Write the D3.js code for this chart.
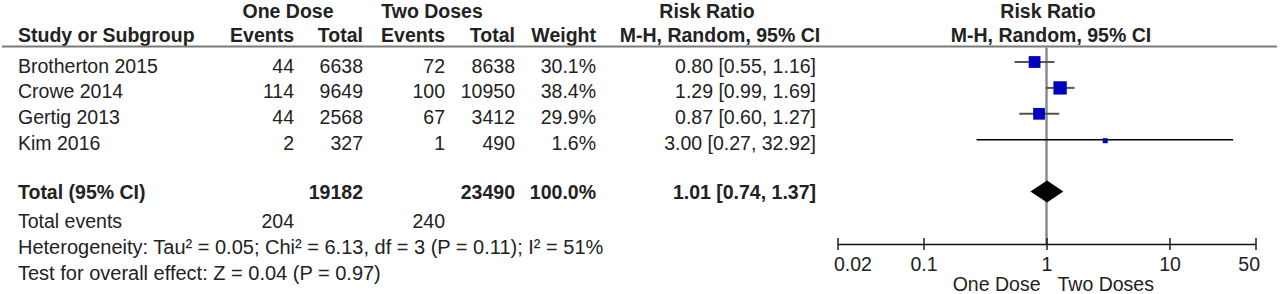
<!DOCTYPE html>
<html>
<head>
<meta charset="utf-8">
<script src="https://cdn.jsdelivr.net/npm/d3@7"></script>
<style>
  body { margin: 0; background: #fff; }
  svg text { font-family: "Liberation Sans", Arial, sans-serif; fill: #222; }
</style>
</head>
<body>
<div id="idForest"></div>
<script>
// studies
var aStudies = ["Brotherton 2015", "Crowe 2014", "Gertig 2013", "Kim 2016"];
var aEvents1 = [44, 114, 44, 2];
var aTotal1 = [6638, 9649, 2568, 327];
var aEvents2 = [72, 100, 67, 1];
var aTotal2 = [8638, 10950, 3412, 490];
var aWeight = [30.1, 38.4, 29.9, 1.6];
var aRR = [0.80, 1.29, 0.87, 3.00];
var aLo = [0.55, 0.99, 0.60, 0.27];
var aHi = [1.16, 1.69, 1.27, 32.92];

// pooled
var oPooled = {rr: 1.01, lo: 0.74, hi: 1.37, total1: 19182, total2: 23490, weight: 100.0, events1: 204, events2: 240};
var sHetero = "Heterogeneity: Tau\u00b2 = 0.05; Chi\u00b2 = 6.13, df = 3 (P = 0.11); I\u00b2 = 51%";
var sOverall = "Test for overall effect: Z = 0.04 (P = 0.97)";

var aTicks = [0.02, 0.1, 1, 10, 50];
var aFavours = ["One Dose", "Two Doses"];

var iWidth = 1280;
var iHeight = 294;
var iFont = 19.5;

var mySvg = d3.select("#idForest").append("svg")
	.attr("width", iWidth)
	.attr("height", iHeight);

// row positions (0..3 studies, 4 blank, 5 total, 6 total events, 7 heterogeneity, 8 overall)
var yRow = d3.scaleLinear().domain([0, 8]).range([62, 269.2]);
var xRR = d3.scaleLog().domain([0.02, 50]).range([837.5, 1255.5]);
var sizeSq = d3.scaleSqrt().domain([0, 38.4]).range([0, 13.3]);

// column right edges
var xEv1 = 294, xTot1 = 363, xEv2 = 445, xTot2 = 515, xWt = 596, xCI = 816;
var iBase = 10.5;

function fmt2(v) { return d3.format(".2f")(v); }
function fCI(r, l, h) { return fmt2(r) + " [" + fmt2(l) + ", " + fmt2(h) + "]"; }

function addText(x, y, s, anchor, bold, size) {
	return mySvg.append("text")
		.attr("x", x)
		.attr("y", y)
		.attr("text-anchor", anchor || "start")
		.attr("font-size", size || iFont)
		.attr("font-weight", bold ? "bold" : "normal")
		.text(s);
}

// headers
var yH1 = 17.5, yH2 = 42;
addText(288, yH1, "One Dose", "middle", true);
addText(432, yH1, "Two Doses", "middle", true);
addText(707, yH1, "Risk Ratio", "middle", true);
addText(1048, yH1, "Risk Ratio", "middle", true);
addText(18, yH2, "Study or Subgroup", "start", true);
addText(xEv1, yH2, "Events", "end", true);
addText(xTot1, yH2, "Total", "end", true);
addText(xEv2, yH2, "Events", "end", true);
addText(xTot2, yH2, "Total", "end", true);
addText(xWt, yH2, "Weight", "end", true);
addText(720, yH2, "M-H, Random, 95% CI", "middle", true);
addText(1051, yH2, "M-H, Random, 95% CI", "middle", true);

mySvg.append("line")
	.attr("x1", 2).attr("x2", 1277)
	.attr("y1", 46.5).attr("y2", 46.5)
	.attr("stroke", "#7a7a7a")
	.attr("stroke-width", 2);

// line of no effect
mySvg.append("line")
	.attr("x1", xRR(1)).attr("x2", xRR(1))
	.attr("y1", 47.5).attr("y2", 244)
	.attr("stroke", "#8c8c8c")
	.attr("stroke-width", 2.5);

// study rows
aStudies.forEach(function(sName, i) {
	var y = yRow(i);
	addText(18, y + iBase, sName);
	addText(xEv1, y + iBase, aEvents1[i], "end");
	addText(xTot1, y + iBase, aTotal1[i], "end");
	addText(xEv2, y + iBase, aEvents2[i], "end");
	addText(xTot2, y + iBase, aTotal2[i], "end");
	addText(xWt, y + iBase, d3.format(".1f")(aWeight[i]) + "%", "end");
	addText(xCI, y + iBase, fCI(aRR[i], aLo[i], aHi[i]), "end");

	var bWide = aHi[i] > 10;
	mySvg.append("line")
		.attr("x1", xRR(aLo[i])).attr("x2", xRR(aHi[i]))
		.attr("y1", y).attr("y2", y)
		.attr("stroke", bWide ? "#000" : "#555")
		.attr("stroke-width", bWide ? 1.6 : 2);

	var s = Math.max(5, sizeSq(aWeight[i]));
	mySvg.append("rect")
		.attr("x", xRR(aRR[i]) - s / 2)
		.attr("y", y - s / 2 + (bWide ? 1 : 0))
		.attr("width", s)
		.attr("height", s)
		.attr("fill", "#0000c0");
});

// pooled row
var yT = yRow(5);
addText(18, yT + iBase - 3, "Total (95% CI)", "start", true);
addText(xTot1, yT + iBase - 3, oPooled.total1, "end", true);
addText(xTot2, yT + iBase - 3, oPooled.total2, "end", true);
addText(xWt, yT + iBase - 3, d3.format(".1f")(oPooled.weight) + "%", "end", true);
addText(xCI, yT + iBase - 3, fCI(oPooled.rr, oPooled.lo, oPooled.hi), "end", true);

var iDh = 11;
mySvg.append("path")
	.attr("d", "M" + xRR(oPooled.lo) + "," + yT +
		"L" + xRR(oPooled.rr) + "," + (yT - iDh) +
		"L" + xRR(oPooled.hi) + "," + yT +
		"L" + xRR(oPooled.rr) + "," + (yT + iDh) + "Z")
	.attr("fill", "#000");

var yE = yRow(6);
addText(18, yE + iBase, "Total events");
addText(xEv1, yE + iBase, oPooled.events1, "end");
addText(xEv2, yE + iBase, oPooled.events2, "end");
addText(18, yRow(7) + iBase, sHetero, "start", false, 20);
addText(18, yRow(8) + iBase, sOverall, "start", false, 20);

// axis
var yAxis = 244;
var myAxis = mySvg.append("g")
	.attr("transform", "translate(0," + yAxis + ")")
	.call(d3.axisBottom(xRR)
		.tickValues(aTicks)
		.tickFormat(function(d) { return String(d); })
		.tickSizeOuter(0)
		.tickSizeInner(6)
		.tickPadding(7));
myAxis.select(".domain").attr("stroke", "#111").attr("stroke-width", 1.6);
myAxis.selectAll(".tick line")
	.attr("y1", -6)
	.attr("stroke", "#111")
	.attr("stroke-width", 1.4);
myAxis.selectAll(".tick text")
	.attr("font-size", iFont)
	.attr("font-family", "'Liberation Sans', Arial, sans-serif")
	.attr("fill", "#222")
	.attr("text-anchor", function(d, i) { return i == 0 ? "start" : (i == aTicks.length - 1 ? "end" : "middle"); })
	.attr("dx", function(d, i) { return i == 0 ? -4 : (i == aTicks.length - 1 ? 4 : 0); });

addText(xRR(1) - 6, 291, aFavours[0], "end");
addText(xRR(1) + 11, 291, aFavours[1], "start");
</script>
</body>
</html>
